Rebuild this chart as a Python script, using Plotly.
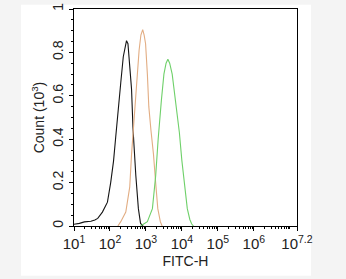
import plotly.graph_objects as go

# log10(FITC-H) positions and counts (x10^3)
black_log10 = [1.0, 1.05, 1.15, 1.29, 1.47, 1.58, 1.66, 1.79, 1.93, 2.02, 2.10, 2.16, 2.25, 2.30, 2.37,
               2.43, 2.46, 2.50, 2.55, 2.60, 2.64, 2.68, 2.72, 2.79, 2.85, 2.92]
black_count = [0.008, 0.009, 0.012, 0.019, 0.022, 0.028, 0.035, 0.064, 0.11, 0.20, 0.30, 0.41, 0.55, 0.66, 0.78,
               0.84, 0.854, 0.84, 0.73, 0.63, 0.45, 0.33, 0.23, 0.08, 0.012, 0.0]

orange_log10 = [2.22, 2.30, 2.44, 2.55, 2.60, 2.65, 2.69, 2.74, 2.81, 2.86, 2.91, 2.95, 2.99, 3.04, 3.08,
                3.14, 3.21, 3.27, 3.33, 3.40, 3.45]
orange_count = [0.0, 0.02, 0.064, 0.18, 0.33, 0.45, 0.51, 0.66, 0.81, 0.88, 0.905, 0.88, 0.84, 0.70, 0.55,
                0.44, 0.33, 0.20, 0.08, 0.02, 0.0]

green_log10 = [2.85, 2.90, 3.04, 3.18, 3.27, 3.34, 3.36, 3.43, 3.50, 3.56, 3.61, 3.66, 3.73, 3.82, 3.93,
               4.00, 4.05, 4.15, 4.22, 4.27, 4.32]
green_count = [0.0, 0.005, 0.02, 0.08, 0.23, 0.40, 0.45, 0.58, 0.70, 0.75, 0.768, 0.75, 0.70, 0.58, 0.43,
               0.30, 0.23, 0.08, 0.03, 0.01, 0.0]

x_tick_exp = [1, 2, 3, 4, 5, 6, 7.2]
x_tick_text = ["10<sup>1</sup>", "10<sup>2</sup>", "10<sup>3</sup>", "10<sup>4</sup>",
               "10<sup>5</sup>", "10<sup>6</sup>", "10<sup>7.2</sup>"]
y_tick_vals = [0, 0.2, 0.4, 0.6, 0.8, 1]
y_tick_text = ["0", "0.2", "0.4", "0.6", "0.8", "1"]

series = [
    (black_log10, black_count, "#141414"),
    (orange_log10, orange_count, "#e2ad83"),
    (green_log10, green_count, "#6fd06a"),
]

fig = go.Figure()
for lx, cy, col in series:
    fig.add_trace(go.Scatter(x=[10 ** v for v in lx], y=cy, mode="lines",
                             line=dict(color=col, width=1.1), showlegend=False, hoverinfo="skip"))

minor_x = [m * 10 ** k for k in range(1, 7) for m in range(2, 10)] + [1e7]

font = dict(family="Liberation Sans, Arial, sans-serif", size=14, color="#222222")

fig.update_layout(
    width=346, height=279,
    margin=dict(l=74, r=49, t=3, b=53),
    paper_bgcolor="#f4f4f4",
    plot_bgcolor="white",
    font=font,
    shapes=[dict(type="rect", xref="paper", yref="paper", x0=-0.238, x1=1.063, y0=-0.229, y1=1.02,
                 fillcolor="white", line=dict(width=0), layer="below")],
    xaxis=dict(type="log", range=[1, 7.2], showgrid=False, zeroline=False,
               showline=True, linecolor="black", linewidth=1, mirror=True,
               ticks="outside", ticklen=4, tickcolor="black", ticklabeloverflow="allow",
               tickmode="array", tickvals=[10 ** e for e in x_tick_exp], ticktext=x_tick_text,
               tickfont=dict(size=15),
               minor=dict(ticks="outside", ticklen=2, tickcolor="black", tickmode="array", tickvals=minor_x),
               title=dict(text="FITC-H", standoff=5, font=font)),
    yaxis=dict(range=[0, 1], showgrid=False, zeroline=False,
               showline=True, linecolor="black", linewidth=1, mirror=True,
               ticks="outside", ticklen=4, tickcolor="black", ticklabeloverflow="allow",
               tickmode="array", tickvals=y_tick_vals, ticktext=y_tick_text, tickangle=-90,
               tickfont=dict(size=14),
               minor=dict(ticks="outside", ticklen=2, tickcolor="black", dtick=0.05),
               title=dict(text="Count (10<sup>3</sup>)", standoff=2, font=font)),
)

fig.write_html("out.html")
